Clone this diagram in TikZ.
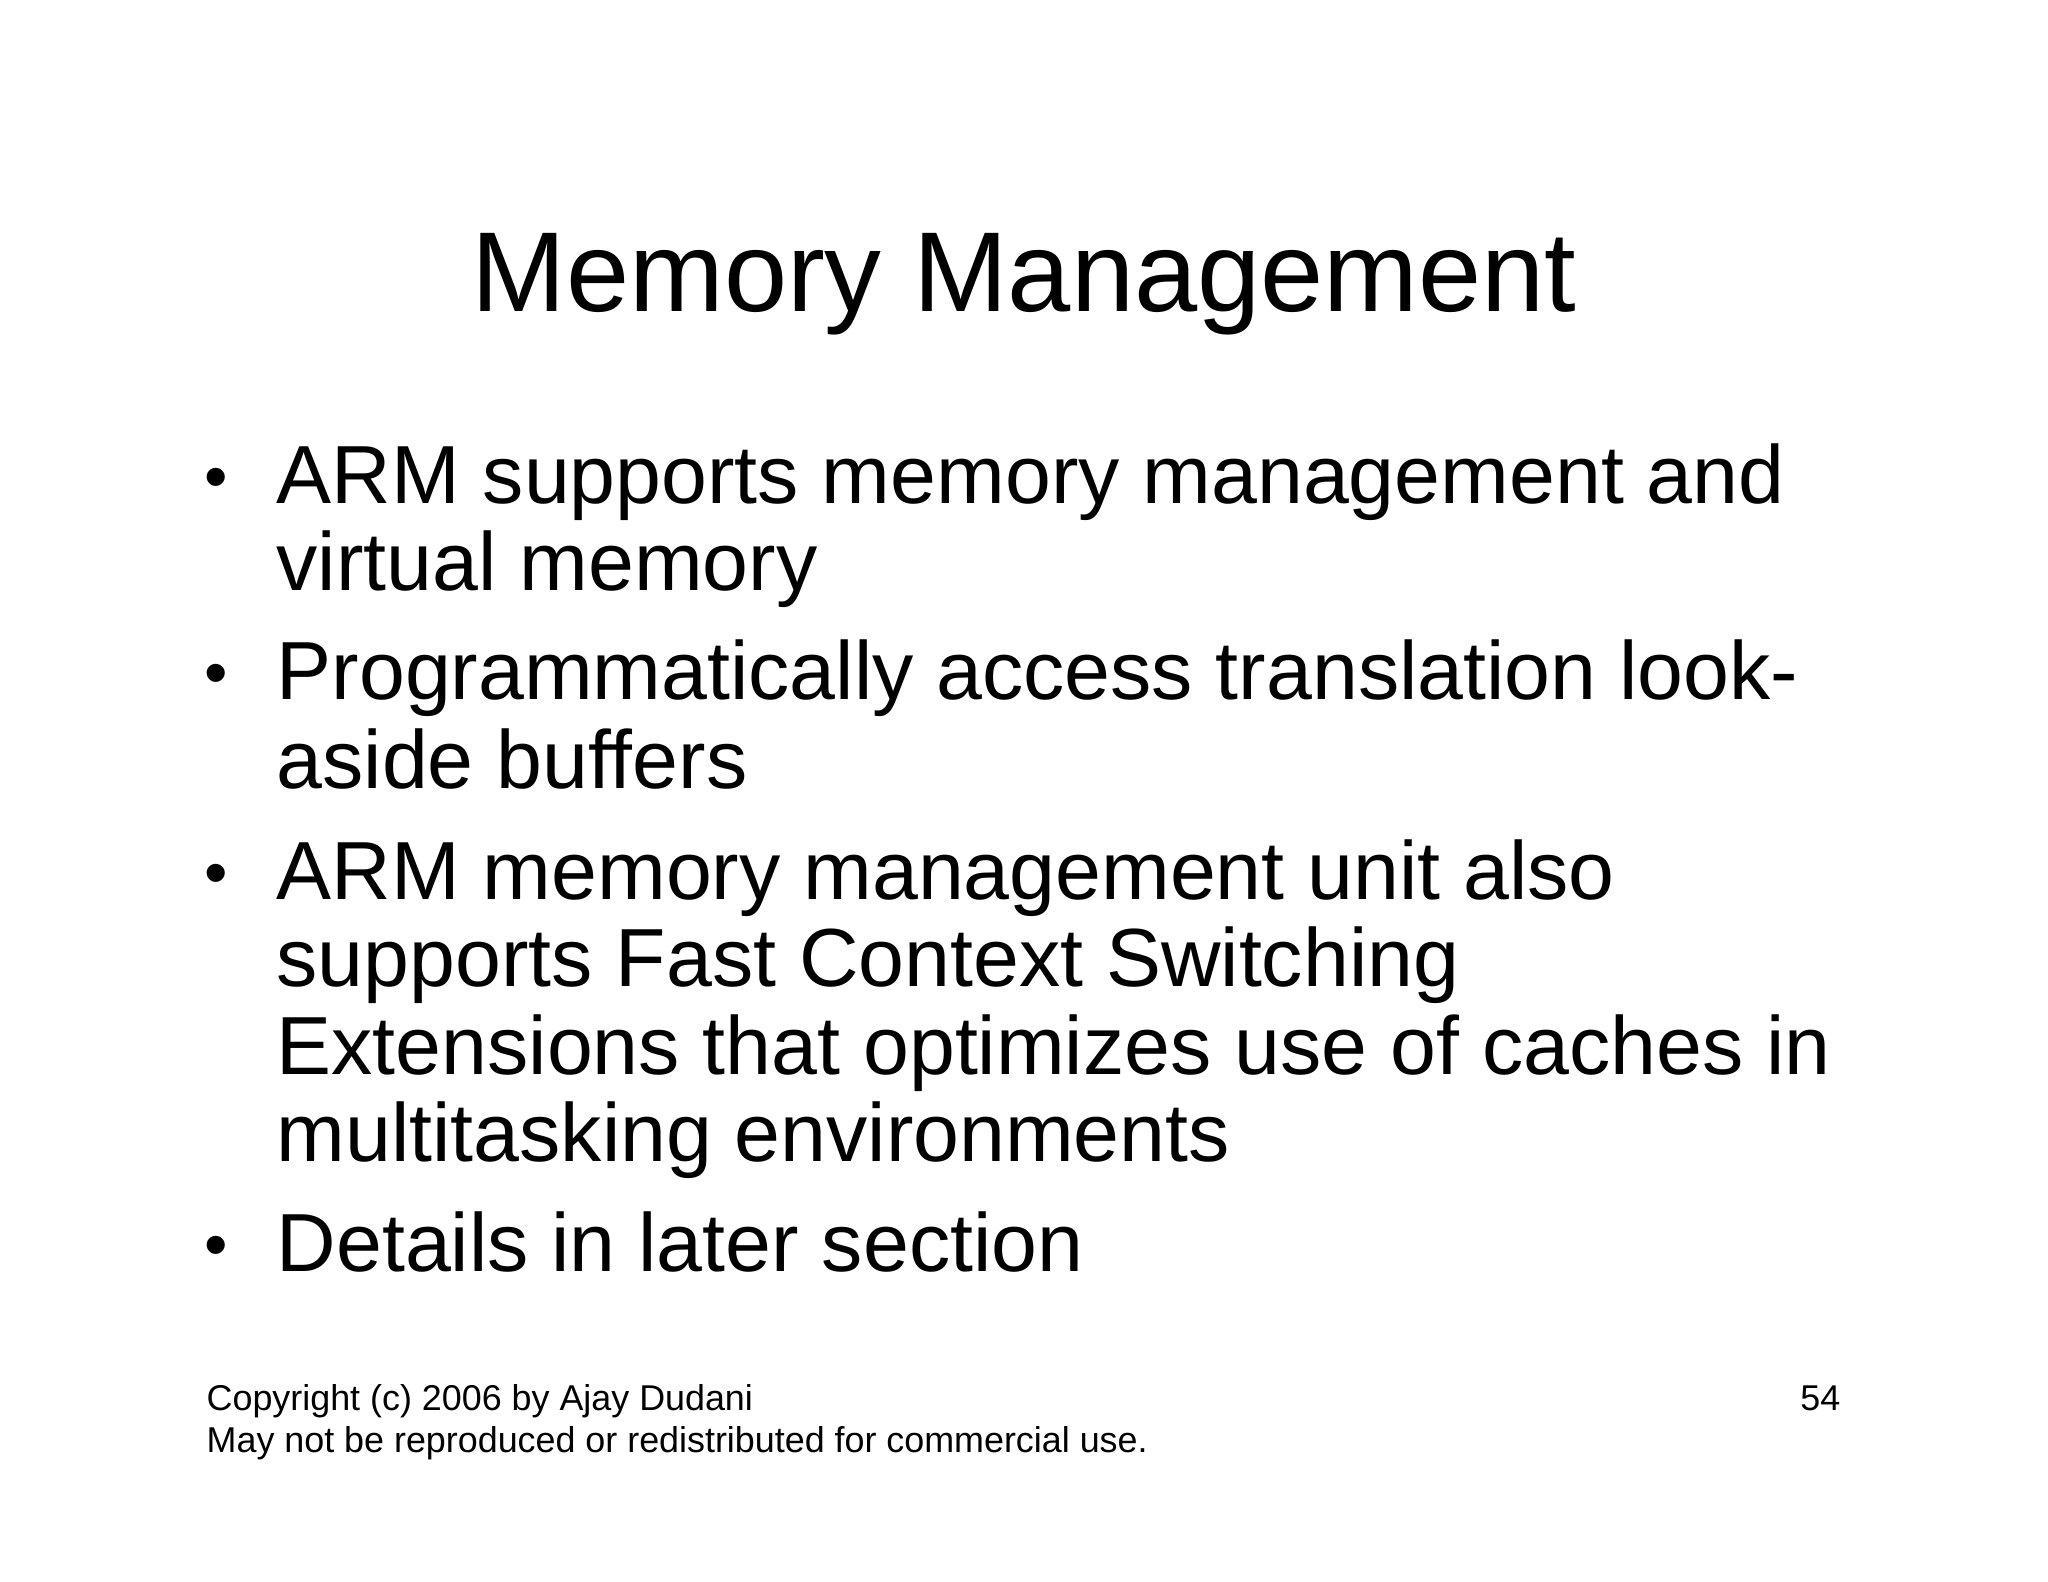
\documentclass[tikz,border=0pt]{standalone}
\usepackage{fontspec}
\setmainfont{Liberation Sans}
\begin{document}
\begin{tikzpicture}[x=0.01cm,y=-0.01cm,
  body/.style={anchor=base west,inner sep=0,font=\fontsize{23.45}{25}\selectfont},
  bul/.style={anchor=base west,inner sep=0,font=\fontsize{19}{19}\selectfont},
  foot/.style={anchor=base west,inner sep=0,font=\fontsize{10.2}{11}\selectfont}]
\useasboundingbox (0,0) rectangle (2048,1582);
\node[anchor=base,inner sep=0,font=\fontsize{32.3}{32}\selectfont] (title) at (1024,311) {Memory Management};
\foreach \y in {503,699,899,1271} \node[bul] at (204,\y-4) {•};
\node[body] (l1) at (276,503) {ARM supports memory management and};
\node[body] (l2) at (276,590) {virtual memory};
\node[body] (l3) at (276,699) {Programmatically access translation look-};
\node[body] (l4) at (276,788) {aside buffers};
\node[body] (l5) at (276,899) {ARM memory management unit also};
\node[body] (l6) at (276,986) {supports Fast Context Switching};
\node[body] (l7) at (276,1074) {Extensions that optimizes use of caches in};
\node[body] (l8) at (276,1161) {multitasking environments};
\node[body] (l9) at (276,1271) {Details in later section};
\node[foot] (f1) at (206,1410) {Copyright (c) 2006 by Ajay Dudani};
\node[foot] (f2) at (206,1452) {May not be reproduced or redistributed for commercial use.};
\node[foot,anchor=base east] (pg) at (1841,1410) {54};
\end{tikzpicture}
\end{document}
